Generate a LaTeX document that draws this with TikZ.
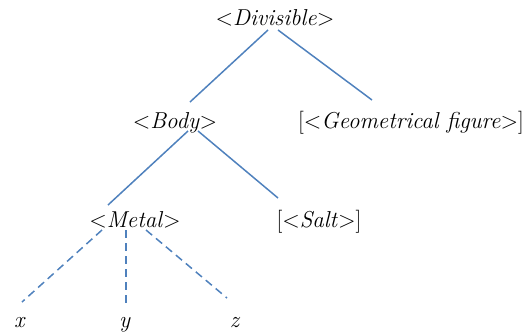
\documentclass[tikz,border=0pt]{standalone}
\usepackage{tikz}
\usetikzlibrary{positioning}

\definecolor{linkblue}{RGB}{79,129,189}
\newcommand{\angl}[1]{<\textit{#1}>}

\begin{document}
\begin{tikzpicture}[x=1pt, y=-1pt,
    word/.style={inner sep=0pt, anchor=base, font=\fontsize{23}{27}\selectfont},
    branch/.style={draw=linkblue, line width=1.5pt},
    leaf/.style={draw=linkblue, line width=1.5pt, dash pattern=on 8pt off 5pt},
]
\useasboundingbox (0,0) rectangle (528,335);

% --- Words ---
\node[word] (div) at (275,25) {\angl{Divisible}};
\node[word] (body) at (175,128) {\angl{Body}};
\node[word] (geo) at (411,128) {[\angl{Geometrical figure}]};
\node[word] (metal) at (135,227) {\angl{Metal}};
\node[word] (salt) at (319,227) {[\angl{Salt}]};
\node[word] (vx) at (20,327) {\textit{x}};
\node[word] (vy) at (125,327) {\textit{y}};
\node[word] (vz) at (235,327) {\textit{z}};

% --- Solid branches ---
\draw[branch] ([shift={(-7,5)}]div.base) -- ([shift={(15,-26)}]body.base);
\draw[branch] ([shift={(3,5)}]div.base) -- ([shift={(-39,-28)}]geo.base);
\draw[branch] ([shift={(13,3)}]body.base) -- ([shift={(-27,-22)}]metal.base);
\draw[branch] ([shift={(23,3)}]body.base) -- ([shift={(-41,-29)}]salt.base);

% --- Dashed branches ---
\draw[leaf] ([shift={(-33,3)}]metal.base) -- ([shift={(2,-25)}]vx.base);
\draw[leaf] ([shift={(-9,3)}]metal.base) -- ([shift={(1,-24)}]vy.base);
\draw[leaf] ([shift={(11,3)}]metal.base) -- ([shift={(-8,-29)}]vz.base);

\end{tikzpicture}
\end{document}
